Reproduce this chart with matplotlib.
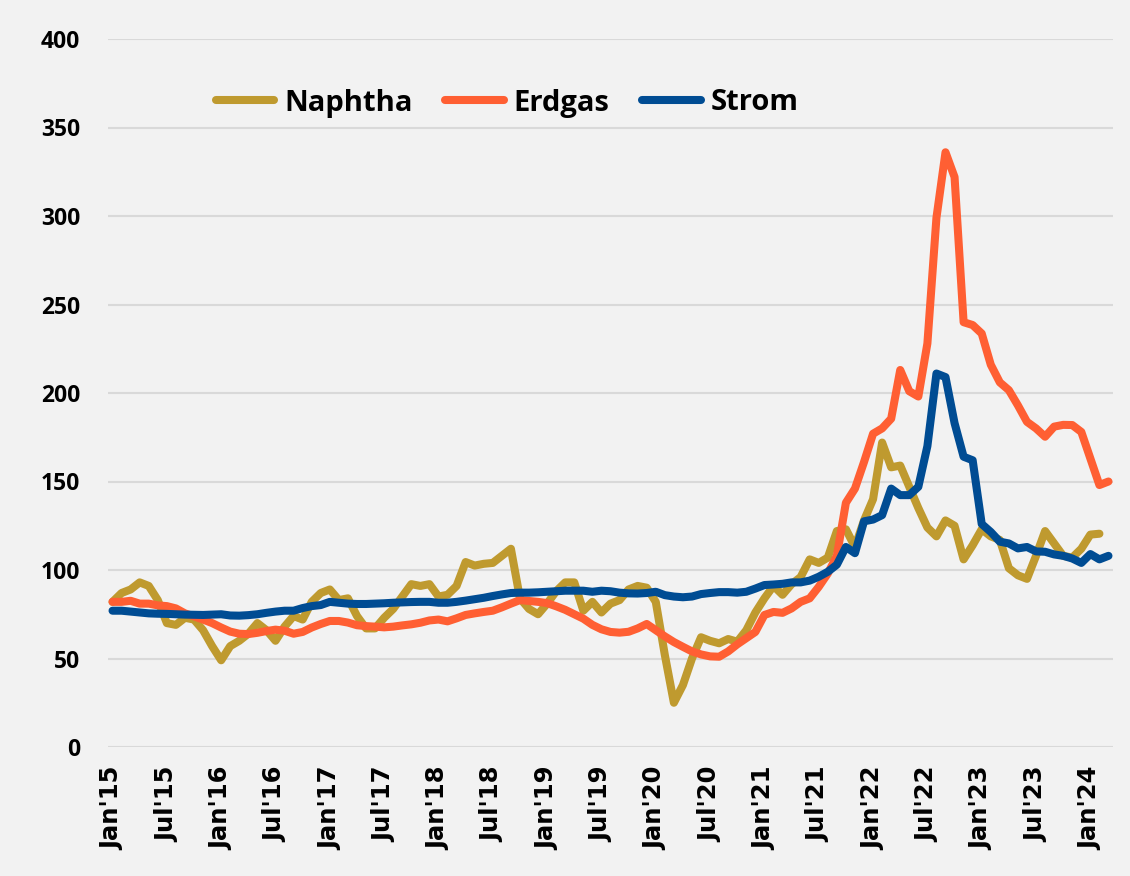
import matplotlib
matplotlib.use("Agg")
import matplotlib.pyplot as plt
import numpy as np

plt.rcParams['font.family'] = ['Open Sans', 'DejaVu Sans']

tick_labels = ["Jan'15", "Jul'15", "Jan'16", "Jul'16", "Jan'17", "Jul'17", "Jan'18",
               "Jul'18", "Jan'19", "Jul'19", "Jan'20", "Jul'20", "Jan'21", "Jul'21",
               "Jan'22", "Jul'22", "Jan'23", "Jul'23", "Jan'24"]

# Monthly values Jan'15 .. Feb'24 (Naphtha), Jan'15 .. Mar'24 (Erdgas, Strom)
naphtha = [82, 87, 89, 93, 91, 83, 70, 69, 73, 72, 66, 57,
           49, 57, 60, 64, 70, 66, 60, 68, 74, 72, 82, 87,
           89, 83, 84, 74, 67, 67, 73, 78, 85, 92, 91, 92,
           85, 86, 91, 104.5, 102.5, 103.5, 104, 108, 112, 84, 78, 75,
           81, 88, 93, 93, 77, 82, 76, 81, 83, 89, 91, 90,
           82, 52, 25, 35, 50, 62, 60, 58.6, 61, 59.5, 66, 76,
           84, 91, 86, 92, 96, 106, 104, 107, 122, 123, 113, 128,
           140, 172, 158, 159, 147, 135, 124, 119, 128, 125, 106, 114,
           123, 119, 117, 101, 97, 95, 108, 122, 115, 108, 107, 112,
           120, 120.5]

erdgas = [82, 82, 82.6, 81, 81, 80, 79.6, 78.3, 75.5, 73.8, 72, 70,
          67.5, 65.2, 64, 63.8, 64.5, 65.5, 66.3, 65.7, 64, 65, 67.5, 69.5,
          71.2, 71.2, 70.3, 68.8, 68.3, 68, 67.6, 68, 68.7, 69.3, 70.2, 71.5,
          72, 71, 72.7, 74.6, 75.5, 76.3, 77, 78.9, 81, 83, 82.5, 82,
          81.3, 79.5, 77.5, 75, 72.5, 69, 66.5, 65, 64.6, 65.1, 67, 69.5,
          66, 62.5, 59.3, 56.6, 54, 52.3, 51.2, 51, 54, 58, 61.5, 65,
          74.6, 76.3, 75.8, 78.3, 82, 84, 90.5, 98, 108, 138, 146, 161,
          177, 180, 185.5, 213, 201, 198, 228, 299, 336, 322, 240, 238.4,
          233.6, 216, 206, 201.6, 193, 183.7, 180, 175.3, 181, 182, 181.9, 178,
          163, 148, 150]

strom = [77, 77, 76.5, 76, 75.5, 75.3, 75.2, 75, 74.8, 74.7, 74.6, 74.8,
         75, 74.3, 74.2, 74.5, 75, 75.8, 76.5, 77, 77, 78.5, 79.6, 80.2,
         82, 81.5, 81, 80.8, 80.8, 81, 81.2, 81.5, 81.7, 81.9, 82, 82,
         81.5, 81.5, 82, 82.7, 83.5, 84.3, 85.3, 86.2, 87, 87.2, 87.2, 87.4,
         87.7, 88, 88.3, 88.3, 88.3, 87.7, 88.3, 88, 87.2, 86.8, 86.7, 87,
         87.7, 85.8, 85, 84.6, 85, 86.4, 87, 87.5, 87.5, 87.2, 87.7, 89.5,
         91.5, 91.8, 92.2, 93, 93, 94, 96.2, 99, 103, 113, 109.5, 127.5,
         128.5, 131, 146, 142.3, 142.3, 147, 170, 211, 209, 183, 164, 162,
         126, 121.5, 116, 115, 112.2, 113, 110.5, 110.3, 108.8, 108, 106.5, 104,
         109, 106, 108]

series_names = ["Naphtha", "Erdgas", "Strom"]
colors = ["#BF9A2F", "#FF5F33", "#004C93"]

W, H, DPI = 1130, 876, 100
fig = plt.figure(figsize=(W / DPI, H / DPI), dpi=DPI, facecolor="#F2F2F2")
ax = fig.add_axes([108 / W, (H - 747) / H, (1113 - 108) / W, (747 - 39) / H])
ax.set_facecolor("#F2F2F2")

for name, data, c in zip(series_names, [naphtha, erdgas, strom], colors):
    ax.plot(np.arange(len(data)), data, color=c, lw=5.8, label=name,
            solid_joinstyle="round", solid_capstyle="round", zorder=3)

ax.set_ylim(0, 400)
ax.set_yticks(np.arange(0, 401, 50))
ax.set_xlim(-0.5, 110.5)
ax.set_xticks(np.arange(0, len(tick_labels) * 6, 6))
ax.set_xticklabels(tick_labels, rotation=90, fontsize=17.5, fontweight="bold",
                   family=["DejaVu Sans"])
for lab in ax.get_yticklabels():
    lab.set_fontsize(16.5)
    lab.set_fontweight("bold")
ax.tick_params(axis="both", length=0)
ax.tick_params(axis="y", pad=20)
ax.tick_params(axis="x", pad=14)
ax.grid(axis="y", color="#D9D9D9", lw=1.5, zorder=0)
for s in ax.spines.values():
    s.set_visible(False)

leg = fig.legend(loc="center left", bbox_to_anchor=(216 / W, 1 - 103 / H),
                 bbox_transform=fig.transFigure, ncol=3, frameon=False,
                 prop={"size": 21, "weight": "bold"}, handlelength=2.0,
                 columnspacing=1.12, handletextpad=0.34, borderpad=0,
                 borderaxespad=0)

fig.savefig("out.png", dpi=DPI, facecolor=fig.get_facecolor())
